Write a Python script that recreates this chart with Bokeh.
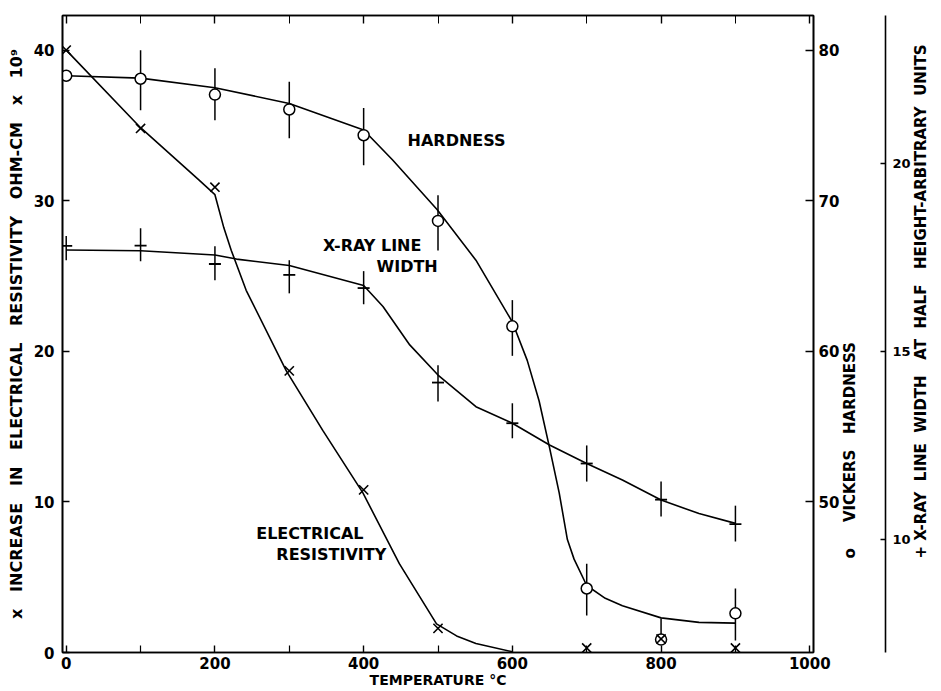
import math
from bokeh.plotting import figure
from bokeh.models import LinearAxis, Range1d, FixedTicker
from bokeh.models import Label
from bokeh.embed import file_html
from bokeh.resources import INLINE

# ---------------- data ----------------
temps = [0, 100, 200, 300, 400, 500, 600, 700, 800, 900]

# electrical resistivity (x marks), 1e-9 ohm-cm
res_T = [0, 100, 200, 300, 400, 500, 700, 800, 900]
res_vals = [40.0, 34.8, 30.9, 18.7, 10.8, 1.6, 0.3, 0.9, 0.3]
res_curve_T = [0, 100, 178, 200, 212, 222, 242, 296, 345, 399, 448, 498, 525, 551, 600]
res_curve_v = [40.0, 34.85, 31.4, 30.4, 28.2, 26.7, 24.05, 18.7, 14.75, 10.6, 5.9, 1.9, 1.1, 0.6, 0.05]

# Vickers hardness (circles)
hard_vals = [78.3, 78.1, 77.05, 76.06, 74.35, 68.66, 61.66, 44.25, 40.86, 42.6]
hard_err_T = [100, 200, 300, 400, 500, 600, 700, 800, 900]
hard_hi = [80.0, 78.8, 77.9, 76.15, 70.37, 63.4, 45.9, 42.26, 44.25]
hard_lo = [76.0, 75.35, 74.15, 72.36, 66.7, 59.7, 42.46, 40.86, 40.8]
hard_curve_T = [0, 100, 200, 300, 400, 439, 499, 551, 600, 620, 636, 650, 663, 674, 683, 700, 725, 748, 800, 851, 900]
hard_curve_v = [78.3, 78.14, 77.5, 76.46, 74.7, 72.7, 69.4, 66.05, 61.95, 59.4, 56.7, 53.6, 50.6, 47.5, 46.2, 44.45, 43.6, 43.1, 42.3, 42.0, 41.95]

# X-ray line width at half height (+ marks), arbitrary units
xr_vals = [17.8, 17.81, 17.32, 17.03, 16.68, 14.17, 13.09, 12.02, 11.06, 10.41]
xr_hi = [18.06, 18.27, 17.79, 17.42, 17.13, 14.63, 13.62, 12.5, 11.54, 10.9]
xr_lo = [17.42, 17.39, 16.89, 16.54, 16.25, 13.67, 12.69, 11.54, 10.61, 9.95]
xr_curve_T = [0, 100, 200, 229, 300, 400, 426, 462, 500, 551, 600, 650, 700, 748, 800, 851, 900]
xr_curve_v = [17.69, 17.67, 17.56, 17.45, 17.28, 16.75, 16.19, 15.17, 14.37, 13.53, 13.09, 12.51, 12.02, 11.58, 11.05, 10.69, 10.43]

x_ticks = [0, 200, 400, 600, 800, 1000]
x_minor = [100, 300, 500, 700, 900]
res_ticks = [0, 10, 20, 30, 40]
hard_ticks = [50, 60, 70, 80]
xr_ticks = [10, 15, 20]

# ---------------- figure ----------------
FONT = "DejaVu Sans"
NB = "\u00a0"
L_TOP = 42.3

p = figure(width=941, height=691, output_backend="svg", toolbar_location=None,
           x_range=Range1d(-5, 1005), y_range=Range1d(0, L_TOP),
           min_border_left=62, min_border_right=126, min_border_top=15, min_border_bottom=39,
           background_fill_color="white", border_fill_color="white")
p.xgrid.visible = False
p.ygrid.visible = False
p.outline_line_color = "black"
p.outline_line_width = 1.6
p.extra_y_ranges = {"vick": Range1d(40, 40 + L_TOP), "xr": Range1d(7, 7 + 0.4 * L_TOP)}

def style_ticks(ax, tin, label_size="15px"):
    ax.major_tick_in = tin
    ax.major_tick_out = 0
    ax.minor_tick_in = 0
    ax.minor_tick_out = 0
    ax.axis_line_color = "black"
    ax.axis_line_width = 1.6
    ax.major_tick_line_color = "black"
    ax.major_tick_line_width = 1.4
    ax.major_label_text_font = FONT
    ax.major_label_text_font_style = "bold"
    ax.major_label_text_font_size = label_size
    ax.major_label_text_color = "black"
    ax.axis_label_text_font = FONT
    ax.axis_label_text_font_style = "bold"
    ax.axis_label_text_color = "black"

# bottom axis
xa = p.xaxis[0]
xa.ticker = FixedTicker(ticks=x_ticks, minor_ticks=x_minor)
style_ticks(xa, 7)
xa.minor_tick_in = 7
xa.minor_tick_line_color = "black"
xa.minor_tick_line_width = 1.2
xa.major_label_standoff = 4
xa.axis_label = "TEMPERATURE °C"
xa.axis_label_text_font_size = "14px"
xa.axis_label_standoff = 0

# left axis
ya = p.yaxis[0]
ya.ticker = FixedTicker(ticks=res_ticks)
style_ticks(ya, 7)
ya.major_label_standoff = 8
ya.axis_label = ("x" + NB * 3 + (NB * 3).join(["INCREASE", "IN", "ELECTRICAL", "RESISTIVITY", "OHM-CM", "x", "10⁹"]))
ya.axis_label_text_font_size = "16px"
ya.axis_label_standoff = 5

# top axis (ticks only)
ta = LinearAxis(ticker=FixedTicker(ticks=x_ticks, minor_ticks=x_minor))
style_ticks(ta, 8)
ta.minor_tick_in = 8
ta.minor_tick_line_color = "black"
ta.major_label_text_font_size = "1px"
ta.major_label_text_alpha = 0
ta.major_label_standoff = 0
p.add_layout(ta, "above")

# right: Vickers hardness axis
va = LinearAxis(y_range_name="vick", ticker=FixedTicker(ticks=hard_ticks))
style_ticks(va, 8)
va.major_label_standoff = 5
va.axis_label = NB * 18 + "o" + NB * 5 + "VICKERS" + NB * 3 + "HARDNESS"
va.axis_label_text_font_size = "15px"
va.axis_label_orientation = math.pi / 2
va.axis_label_align = "start"
va.axis_label_standoff = 8
p.add_layout(va, "right")

# spacer between the two right axes
sp = LinearAxis(y_range_name="xr", ticker=FixedTicker(ticks=[15]), major_label_overrides={15: ""})
sp.axis_line_color = None
sp.major_tick_line_color = None
sp.minor_tick_line_color = None
sp.major_tick_in = 0
sp.major_tick_out = 14
sp.major_label_standoff = 0
p.add_layout(sp, "right")

# right: X-ray line width axis
ra = LinearAxis(y_range_name="xr", ticker=FixedTicker(ticks=xr_ticks))
style_ticks(ra, 5, "13px")
ra.major_label_standoff = 7
ra.axis_label = (NB * 18 + "+" + NB + NB.join(["X-RAY", "", "LINE", "", "WIDTH", "", "", "AT", "", "HALF", "", "",
                                             "HEIGHT-ARBITRARY", "", "UNITS"]))
ra.axis_label_text_font_size = "15px"
ra.axis_label_orientation = math.pi / 2
ra.axis_label_align = "start"
ra.axis_label_standoff = 7
p.add_layout(ra, "right")

# ---------------- curves ----------------
p.line(res_curve_T, res_curve_v, line_color="black", line_width=1.6)
p.line(hard_curve_T, hard_curve_v, line_color="black", line_width=1.6, y_range_name="vick")
p.line(xr_curve_T, xr_curve_v, line_color="black", line_width=1.6, y_range_name="xr")

# error bars
p.segment(x0=hard_err_T, y0=hard_lo, x1=hard_err_T, y1=hard_hi, line_color="black",
          line_width=1.5, y_range_name="vick")
p.segment(x0=temps, y0=xr_lo, x1=temps, y1=xr_hi, line_color="black",
          line_width=1.5, y_range_name="xr")

# markers
p.scatter(temps, hard_vals, marker="circle", size=11, fill_color="white",
          line_color="black", line_width=1.5, y_range_name="vick")
p.scatter(temps, xr_vals, marker="dash", size=12, line_color="black", line_width=1.8,
          y_range_name="xr")
p.scatter(res_T, res_vals, marker="x", size=13, line_color="black", line_width=1.6)

# in-plot labels
for txt, xv, yv in [("HARDNESS", 525, 33.97), ("X-RAY LINE", 411.5, 27.04), ("WIDTH", 458.5, 25.65),
                    ("ELECTRICAL", 327.7, 7.9), ("RESISTIVITY", 356.5, 6.54)]:
    p.add_layout(Label(x=xv, y=yv, text=txt, text_font=FONT, text_font_style="bold",
                       text_font_size="16px", text_align="center", text_baseline="middle",
                       text_color="black"))

open("out.html", "w").write(file_html(p, INLINE))
